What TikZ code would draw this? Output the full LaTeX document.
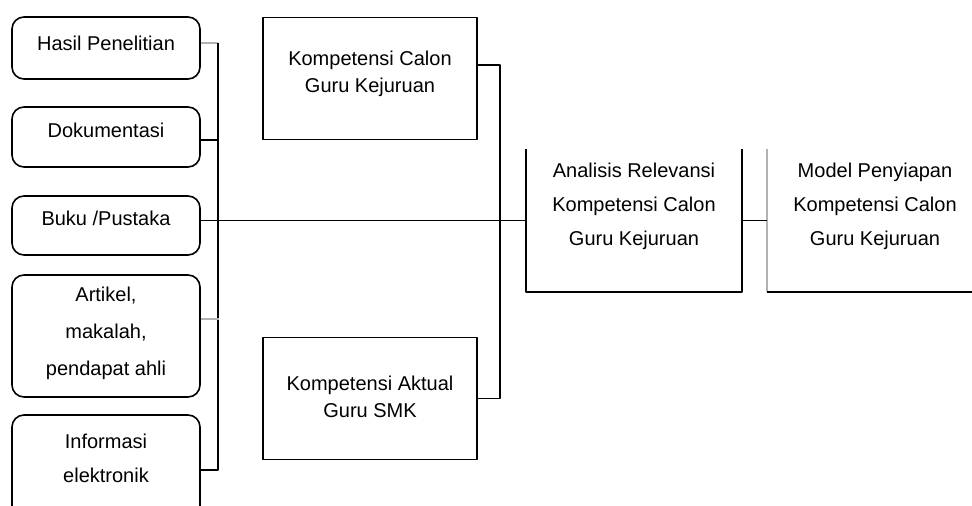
\documentclass[tikz,border=0pt]{standalone}
\usepackage{fontspec}
\setmainfont{Liberation Sans}
\begin{document}
\begin{tikzpicture}[x=1pt, y=-1pt, line join=round, line width=1.6pt,
  font=\fontsize{20}{34}\selectfont,
  srcbox/.style={draw, rounded corners=12pt, minimum width=188pt, inner sep=0pt},
  kbox/.style={draw, minimum width=214pt, minimum height=122pt, inner sep=0pt},
  obox/.style={minimum width=214pt, minimum height=141pt, inner sep=0pt},
  txt/.style={align=center, inner sep=0pt}]
\useasboundingbox (0,0) rectangle (972,506);
\clip (0,0) rectangle (972,506);
% sumber data
\node[srcbox, minimum height=62pt] (hasil) at (106,48) {};
\node[txt] (hasilt) at (106,43) {Hasil Penelitian};
\node[srcbox, minimum height=60pt] (dok) at (106,137) {};
\node[txt] (dokt) at (106,130) {Dokumentasi};
\node[srcbox, minimum height=59pt] (buku) at (106,225.5) {};
\node[txt] (bukut) at (106,218) {Buku /Pustaka};
\node[srcbox, minimum height=122pt] (art) at (106,336) {};
\node[txt, font=\fontsize{20}{37}\selectfont] (artt) at (106,333) {Artikel,\\makalah,\\pendapat ahli};
\node[srcbox, minimum height=110pt] (info) at (106,470) {};
\node[txt] (infot) at (106,458) {Informasi\\elektronik};
% kompetensi
\node[kbox] (calon) at (370,78.5) {};
\node[txt, font=\fontsize{20}{27}\selectfont] (calont) at (370,73.5) {Kompetensi Calon\\Guru Kejuruan};
\node[kbox] (aktual) at (370,398.5) {};
\node[txt, font=\fontsize{20}{27}\selectfont] (aktualt) at (370,396.5) {Kompetensi Aktual\\Guru SMK};
% analisis dan model
\node[obox] (anal) at (634,220.5) {};
\node[txt] (analt) at (634,206) {Analisis Relevansi\\Kompetensi Calon\\Guru Kejuruan};
\node[obox, minimum width=232pt] (model) at (884,220.5) {};
\node[txt] (modelt) at (875,206) {Model Penyiapan\\Kompetensi Calon\\Guru Kejuruan};
\draw (anal.north west) -- (anal.south west) -- (anal.south east) -- (anal.north east);
\draw[gray!60] (model.north west) -- (model.south west);
\draw (model.south west) -- (model.south east);
% penghubung
\coordinate (bus) at (218,43);
\coordinate (join) at (500,220);
\draw[gray!60] (hasil.east |- hasilt) -- (bus);
\draw (bus) |- (info.east);
\draw ([yshift=-3pt]dok.east) -- +(18,0);
\draw[gray!60] ([yshift=17pt]art.east) -- +(18,0);
\draw (buku.east |- anal.west) -- (anal.west);
\draw ([yshift=13.5pt]calon.east) -| (join) |- (aktual.east);
\draw (anal.east) -- (model.west);
\end{tikzpicture}
\end{document}
